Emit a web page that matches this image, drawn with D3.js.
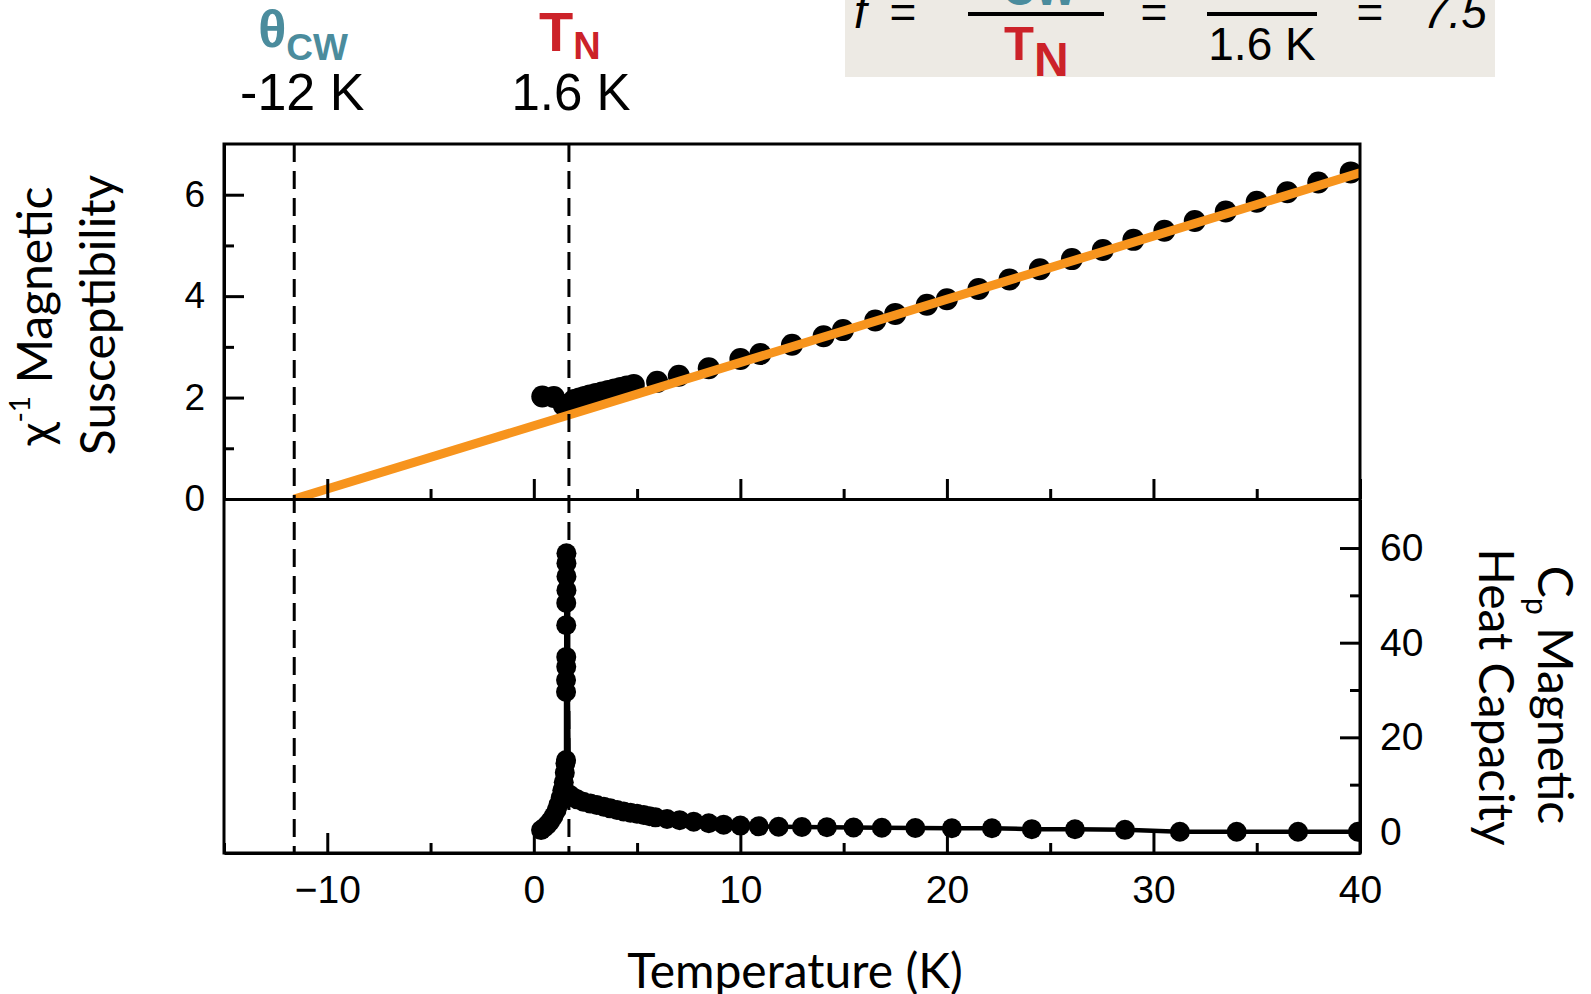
<!DOCTYPE html>
<html lang="en">
<head>
    <meta charset="UTF-8">
    <script src="https://d3js.org/d3.v7.min.js"></script>
    <style>
        body { margin: 0; background: #fff; }
        .tick text { font-family: "Liberation Sans", Arial, sans-serif; fill: #000; }
        .domain, .tick line { stroke: #000; stroke-width: 3px; }
        .title { font-family: Lato, "Open Sans", sans-serif; font-size: 48px; fill: #000; }
        .ann { font-family: "Liberation Sans", Arial, sans-serif; fill: #000; }
    </style>
</head>
<body>
<div id="chart"></div>
<script>
    // inverse susceptibility (top panel)
    const chiT = [0.41, 0.97, 1.45, 1.75, 1.95, 2.2, 2.45, 2.7, 3.0, 3.3, 3.6, 3.9, 4.2, 4.5, 4.84,
        5.97, 7.02, 8.47, 10.0, 10.97, 12.5, 14.03, 14.97, 16.53, 17.5, 19.03, 20.0, 21.53, 23.03,
        24.5, 26.05, 27.55, 29.03, 30.53, 32.0, 33.5, 35.0, 36.48, 37.98, 39.55];
    const chiV = [2.02, 2.01, 1.85, 1.88, 1.95, 1.98, 2.01, 2.04, 2.07, 2.1, 2.13, 2.16, 2.19, 2.22, 2.25,
        2.31, 2.43, 2.58, 2.76, 2.86, 3.04, 3.21, 3.33, 3.52, 3.65, 3.83, 3.94, 4.14, 4.33,
        4.53, 4.73, 4.91, 5.11, 5.29, 5.48, 5.67, 5.86, 6.05, 6.24, 6.44];

    // Curie-Weiss fit end points
    const fitT = [-11.6, 40];
    const fitV = [0, 6.43];

    // magnetic heat capacity (bottom panel)
    const cpT = [0.35, 0.5, 0.65, 0.8, 0.95, 1.1, 1.2, 1.3, 1.38, 1.45, 1.5, 1.53,
        1.56, 1.56, 1.56, 1.57, 1.57, 1.57, 1.57, 1.58, 1.58, 1.58, 1.58,
        1.7, 1.85, 2.1, 2.4, 2.74, 3.05, 3.39, 3.7, 4.03, 4.35, 4.68, 5.0, 5.32, 5.6, 5.89,
        6.45, 7.06, 7.74, 8.47, 9.19, 10.0, 10.89, 11.85, 12.98, 14.19, 15.48, 16.85, 18.47,
        20.24, 22.18, 24.11, 26.2, 28.62, 31.28, 34.03, 37.0, 39.9];
    const cpV = [0.4, 0.9, 1.5, 2.3, 3.3, 4.6, 5.8, 7.2, 8.8, 10.5, 12.5, 14.5,
        15.2, 29.6, 32.1, 34.9, 37.0, 43.7, 48.4, 51.1, 54.0, 56.8, 58.9,
        8.0, 7.5, 6.9, 6.4, 6.0, 5.7, 5.35, 5.0, 4.65, 4.35, 4.08, 3.85, 3.59, 3.35, 3.1,
        2.75, 2.5, 2.18, 1.85, 1.55, 1.35, 1.2, 1.1, 1.05, 1.0, 0.95, 0.9, 0.85,
        0.8, 0.78, 0.6, 0.57, 0.45, 0.05, 0.05, 0.05, 0.05];

    // theta_CW and T_N guides
    const guideT = [-11.6, 1.7];

    const xMajor = [-10, 0, 10, 20, 30, 40];
    const xMinor = [-15, -5, 5, 15, 25, 35];
    const chiMajor = [0, 2, 4, 6];
    const chiMinor = [1, 3, 5];
    const cpMajor = [0, 20, 40, 60];
    const cpMinor = [10, 30, 50];

    const W = 1591, H = 994;
    const pLeft = 224, pRight = 1360, pTop = 144, pMid = 499, pBottom = 853;

    const svg = d3.select("#chart").append("svg")
        .attr("width", W).attr("height", H);

    const x = d3.scaleLinear().domain([-15, 40]).range([pLeft, pRight]);
    const yChi = d3.scaleLinear().domain([0, 7]).range([pMid, pTop]);
    const yCp = d3.scaleLinear().domain([-4.44, 70.36]).range([pBottom, pMid]);

    const defs = svg.append("defs");
    defs.append("clipPath").attr("id", "clipTop")
        .append("rect").attr("x", pLeft).attr("y", pTop).attr("width", pRight - pLeft).attr("height", pMid - pTop);
    defs.append("clipPath").attr("id", "clipBot")
        .append("rect").attr("x", pLeft).attr("y", pMid).attr("width", pRight - pLeft).attr("height", pBottom - pMid);

    // top panel points
    const chiData = chiT.map((t, i) => ({t, v: chiV[i]}));
    const gTop = svg.append("g").attr("clip-path", "url(#clipTop)");
    gTop.selectAll("circle").data(chiData).enter().append("circle")
        .attr("cx", d => x(d.t)).attr("cy", d => yChi(d.v)).attr("r", 11).attr("fill", "#000");

    gTop.append("path")
        .datum(fitT.map((t, i) => ({t, v: fitV[i]})))
        .attr("d", d3.line().x(d => x(d.t)).y(d => yChi(d.v)))
        .attr("stroke", "#f7941d").attr("stroke-width", 9).attr("fill", "none");

    // bottom panel
    const cpData = cpT.map((t, i) => ({t, v: cpV[i]}));
    const gBot = svg.append("g").attr("clip-path", "url(#clipBot)");
    gBot.append("path").datum(cpData)
        .attr("d", d3.line().x(d => x(d.t)).y(d => yCp(d.v)))
        .attr("stroke", "#000").attr("stroke-width", 4.5).attr("fill", "none");
    gBot.selectAll("circle").data(cpData).enter().append("circle")
        .attr("cx", d => x(d.t)).attr("cy", d => yCp(d.v)).attr("r", 10).attr("fill", "#000");

    // dashed guides
    svg.selectAll(".guide").data(guideT).enter().append("line")
        .attr("class", "guide")
        .attr("x1", d => x(d)).attr("x2", d => x(d))
        .attr("y1", pTop).attr("y2", pBottom)
        .attr("stroke", "#000").attr("stroke-width", 3).attr("stroke-dasharray", "18,9");

    // axes: major ticks with labels, minor ticks without, all pointing inward
    function addAxis(makeAxis, tf, major, minor, fmt, size, pad) {
        const g = svg.append("g").attr("transform", tf);
        g.call(makeAxis().tickValues(major).tickSize(-20).tickSizeOuter(0).tickPadding(pad).tickFormat(fmt));
        g.append("g").call(makeAxis().tickValues(minor).tickSize(-10).tickSizeOuter(0).tickFormat(""))
            .select(".domain").remove();
        g.selectAll(".tick text").style("font-size", size + "px");
        return g;
    }
    const fmt = d3.format("d");
    addAxis(() => d3.axisBottom(x), `translate(0,${pBottom})`, xMajor, xMinor, fmt, 39, 22);
    addAxis(() => d3.axisBottom(x), `translate(0,${pMid})`, xMajor, xMinor, "", 39, 0);
    addAxis(() => d3.axisLeft(yChi), `translate(${pLeft},0)`, chiMajor, chiMinor, fmt, 37, 19);
    addAxis(() => d3.axisRight(yCp), `translate(${pRight},0)`, cpMajor, cpMinor, fmt, 39, 20);

    svg.append("rect")
        .attr("x", pLeft).attr("y", pTop).attr("width", pRight - pLeft).attr("height", pBottom - pTop)
        .attr("fill", "none").attr("stroke", "#000").attr("stroke-width", 3);

    // axis titles
    const lt = svg.append("text").attr("class", "title")
        .attr("text-anchor", "middle").attr("transform", "translate(52,316) rotate(-90)");
    lt.append("tspan").text("χ");
    lt.append("tspan").attr("font-size", 28).attr("dy", -22).text("-1");
    lt.append("tspan").attr("dy", 22).text(" Magnetic");
    svg.append("text").attr("class", "title")
        .attr("text-anchor", "middle").attr("transform", "translate(115,315) rotate(-90)")
        .text("Susceptibility");

    const rt = svg.append("text").attr("class", "title")
        .attr("text-anchor", "middle").attr("transform", "translate(1538,695) rotate(90)");
    rt.append("tspan").text("C");
    rt.append("tspan").attr("font-size", 30).attr("dy", 12).text("p");
    rt.append("tspan").attr("dy", -12).text(" Magnetic");
    svg.append("text").attr("class", "title")
        .attr("text-anchor", "middle").attr("transform", "translate(1479,697) rotate(90)")
        .text("Heat Capacity");

    svg.append("text").attr("class", "title")
        .attr("text-anchor", "middle").attr("x", 795).attr("y", 988)
        .text("Temperature (K)");

    // guide annotations
    const teal = "#4b8c9d", red = "#cc2229";
    const th = svg.append("text").attr("class", "ann").attr("font-weight", "bold")
        .style("fill", teal).attr("x", x(guideT[0]) - 36).attr("y", 47);
    th.append("tspan").attr("font-size", 52).text("θ");
    th.append("tspan").attr("font-size", 37).attr("dy", 13).text("CW");
    svg.append("text").attr("class", "ann").attr("font-size", 52).attr("text-anchor", "middle")
        .attr("x", x(guideT[0]) + 8).attr("y", 110).text("-12 K");

    const tn = svg.append("text").attr("class", "ann").attr("font-weight", "bold")
        .style("fill", red).attr("x", x(guideT[1]) - 30).attr("y", 51);
    tn.append("tspan").attr("font-size", 56).text("T");
    tn.append("tspan").attr("font-size", 38).attr("dy", 8).text("N");
    svg.append("text").attr("class", "ann").attr("font-size", 51).attr("text-anchor", "middle")
        .attr("x", x(guideT[1]) + 2).attr("y", 110).text("1.6 K");

    // frustration index box
    const box = svg.append("g");
    box.append("rect").attr("x", 845).attr("y", 0).attr("width", 650).attr("height", 77).attr("fill", "#edeae4");
    box.append("text").attr("class", "ann").attr("font-size", 46).attr("font-style", "italic")
        .attr("x", 854).attr("y", 28).text("f");
    [903, 1154, 1370].forEach(cx => {
        box.append("text").attr("class", "ann").attr("font-size", 46).attr("text-anchor", "middle")
            .attr("x", cx).attr("y", 28).text("=");
    });
    box.append("line").attr("x1", 968).attr("x2", 1104).attr("y1", 14).attr("y2", 14)
        .attr("stroke", "#000").attr("stroke-width", 4);
    box.append("line").attr("x1", 1207).attr("x2", 1317).attr("y1", 14).attr("y2", 14)
        .attr("stroke", "#000").attr("stroke-width", 4);
    const num = box.append("text").attr("class", "ann").attr("font-weight", "bold")
        .style("fill", teal).attr("x", 975).attr("y", -8);
    num.append("tspan").attr("font-size", 52).text("θ");
    num.append("tspan").attr("font-size", 44).attr("dy", 13).text("CW");
    const den = box.append("text").attr("class", "ann").attr("font-weight", "bold")
        .style("fill", red).attr("x", 1004).attr("y", 60);
    den.append("tspan").attr("font-size", 49).text("T");
    den.append("tspan").attr("font-size", 48).attr("dy", 16).text("N");
    box.append("text").attr("class", "ann").attr("font-size", 46).attr("text-anchor", "middle")
        .attr("x", 1262).attr("y", 60).text("1.6 K");
    box.append("text").attr("class", "ann").attr("font-size", 46).attr("font-style", "italic")
        .attr("x", 1423).attr("y", 28).text("7.5");
</script>
</body>
</html>
